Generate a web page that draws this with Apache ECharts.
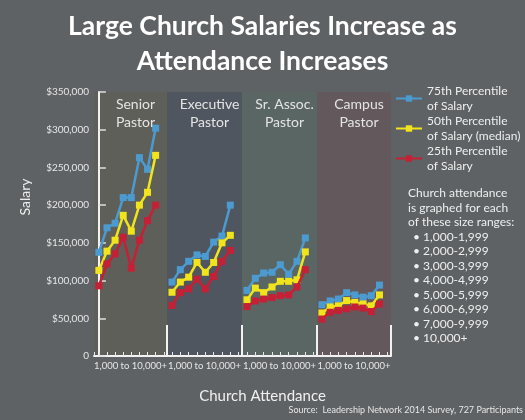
<!DOCTYPE html>
<html><head><meta charset="utf-8">
<script src="https://cdn.jsdelivr.net/npm/echarts@6/dist/echarts.min.js"></script>
<style>html,body{margin:0;padding:0;background:#5f6265;}#c{width:525px;height:420px;}</style>
</head><body><div id="c"></div>
<script>
// ---- data ----
const sizeRanges = ['1,000-1,999','2,000-2,999','3,000-3,999','4,000-4,999','5,000-5,999','6,000-6,999','7,000-9,999','10,000+'];
const panels = ['Senior\nPastor','Executive\nPastor','Sr. Assoc.\nPastor','Campus\nPastor'];
const seriesNames = ['75th Percentile\nof Salary','50th Percentile\nof Salary (median)','25th Percentile\nof Salary'];
const yTicks = [0,50000,100000,150000,200000,250000,300000,350000];
// 75th percentile
const p75_senior = [137500,170000,176000,210000,210000,263000,247500,302000];
const p75_exec   = [98000,114500,125500,134000,132000,151000,159000,200000];
const p75_assoc  = [87000,103000,110000,111000,121000,108500,125500,156500];
const p75_campus = [68000,73000,75500,84000,81000,78000,80000,94000];
// 50th percentile (median)
const p50_senior = [113500,139000,153500,186500,165500,200000,217000,266000];
const p50_exec   = [84500,98000,104500,124000,111000,124000,150000,160000];
const p50_assoc  = [74500,90000,84000,91500,99000,99000,101000,138000];
const p50_campus = [57000,65000,66500,73500,71000,69000,66500,81000];
// 25th percentile
const p25_senior = [93000,122000,135500,157500,116500,153500,179500,200000];
const p25_exec   = [67000,84000,89000,102000,89000,105500,125500,140000];
const p25_assoc  = [65500,73000,75500,77500,80000,81000,91500,114500];
const p25_campus = [49000,58000,60500,62500,65000,63500,59000,69000];

const values = [
  [p75_senior,p75_exec,p75_assoc,p75_campus],
  [p50_senior,p50_exec,p50_assoc,p50_campus],
  [p25_senior,p25_exec,p25_assoc,p25_campus]
];
const colors = ['#4b9bd1','#f2e41c','#c52035'];
const panelBg = ['#5e5f58','#505660','#5a6663','#63595c'];
const FONT = 'Lato';

// ---- layout ----
const gridLefts = [94,167,242,317];
const gridWidths = [73,75,75,74];
const gridTop = 92, gridBottomPx = 356;

const grids = [], xAxes = [], yAxes = [], series = [], titles = [];
panels.forEach((p, i) => {
  grids.push({left: gridLefts[i], width: gridWidths[i], top: gridTop, height: gridBottomPx - gridTop,
    show: true, backgroundColor: panelBg[i], borderWidth: 0});
  xAxes.push({gridIndex: i, type: 'value', min: -0.6, max: 8.4, minInterval: 1, maxInterval: 1,
    axisLine: {show: true, lineStyle: {color: '#f2f2f2', width: 2}},
    axisTick: {show: true, inside: true, length: 4, lineStyle: {color: '#e8e8e8', width: 1}},
    axisLabel: {show: false}, splitLine: {show: false},
    name: '1,000 to 10,000+', nameLocation: 'middle', nameGap: 5,
    nameTextStyle: {color: '#e6e6e6', fontSize: 9.5, fontFamily: FONT, verticalAlign: 'top'}});
  yAxes.push({gridIndex: i, type: 'value', min: 0, max: 350000, interval: 50000,
    show: i === 0,
    axisLine: {show: true, lineStyle: {color: '#f2f2f2', width: 2}},
    axisTick: {show: true, inside: true, length: 7, lineStyle: {color: '#e0e0e0', width: 1.5}},
    axisLabel: {color: '#e6e6e6', fontSize: 10, fontFamily: FONT, margin: 5,
      formatter: v => v === 0 ? '0' : '$' + v.toLocaleString('en-US')},
    splitLine: {show: false}});
  titles.push({text: p, left: gridLefts[i] + gridWidths[i] / 2, top: 90, textAlign: 'center',
    textStyle: {color: '#e4e4e4', fontSize: 14, fontWeight: 'normal', fontFamily: FONT, lineHeight: 18}});
  seriesNames.forEach((name, s) => {
    series.push({name, type: 'line', xAxisIndex: i, yAxisIndex: i,
      data: values[s][i].map((v, k) => [k, v]),
      symbol: 'rect', symbolSize: 7, color: colors[s],
      lineStyle: {width: 2.5, color: colors[s]}, itemStyle: {color: colors[s]},
      z: 2 + s, animation: false});
  });
});

titles.push({text: 'Large Church Salaries Increase as\nAttendance Increases', left: 'center', top: 4,
  textStyle: {color: '#ffffff', fontSize: 26.5, fontWeight: 'bold', fontFamily: FONT, lineHeight: 35}});
titles.push({text: 'Church Attendance', left: 'center', top: 384,
  textStyle: {color: '#f0f0f0', fontSize: 15, fontWeight: 'normal', fontFamily: FONT}});
titles.push({text: 'Source:  Leadership Network 2014 Survey, 727 Participants', right: 2, top: 406, padding: 0,
  textStyle: {color: '#e6e6e6', fontSize: 9, fontWeight: 'normal', fontFamily: FONT}});

const graphics = [];
// separators between panels
const sepXs = [167, 242, 317, 391];
sepXs.forEach(x => graphics.push({type: 'line', shape: {x1: x, y1: 325, x2: x, y2: gridBottomPx},
  style: {stroke: '#f2f2f2', lineWidth: 2}, z: 10}));
graphics.push({type: 'text', x: 25, y: 197, rotation: Math.PI / 2,
  style: {text: 'Salary', fill: '#eeeeee', font: '14px ' + FONT, textAlign: 'center', textVerticalAlign: 'middle'}});
graphics.push({type: 'text', x: 408, y: 186,
  style: {text: 'Church attendance\nis graphed for each\nof these size ranges:', fill: '#eeeeee',
    font: '12px ' + FONT, lineHeight: 14.5}});
graphics.push({type: 'text', x: 413, y: 229.5,
  style: {text: sizeRanges.map(s => '\u2022 ' + s).join('\n'), fill: '#eeeeee',
    font: '12px ' + FONT, lineHeight: 14.5}});

const chart = echarts.init(document.getElementById('c'), null, {renderer: 'canvas'});
chart.setOption({
  backgroundColor: '#5f6265',
  animation: false,
  title: titles,
  grid: grids,
  xAxis: xAxes,
  yAxis: yAxes,
  legend: {data: seriesNames, orient: 'vertical', left: 390, top: 79, itemGap: 1,
    itemWidth: 26, itemHeight: 8, selectedMode: false,
    textStyle: {color: '#eeeeee', fontSize: 12, fontFamily: FONT, lineHeight: 14.5}},
  series,
  graphic: graphics
});
</script></body></html>
